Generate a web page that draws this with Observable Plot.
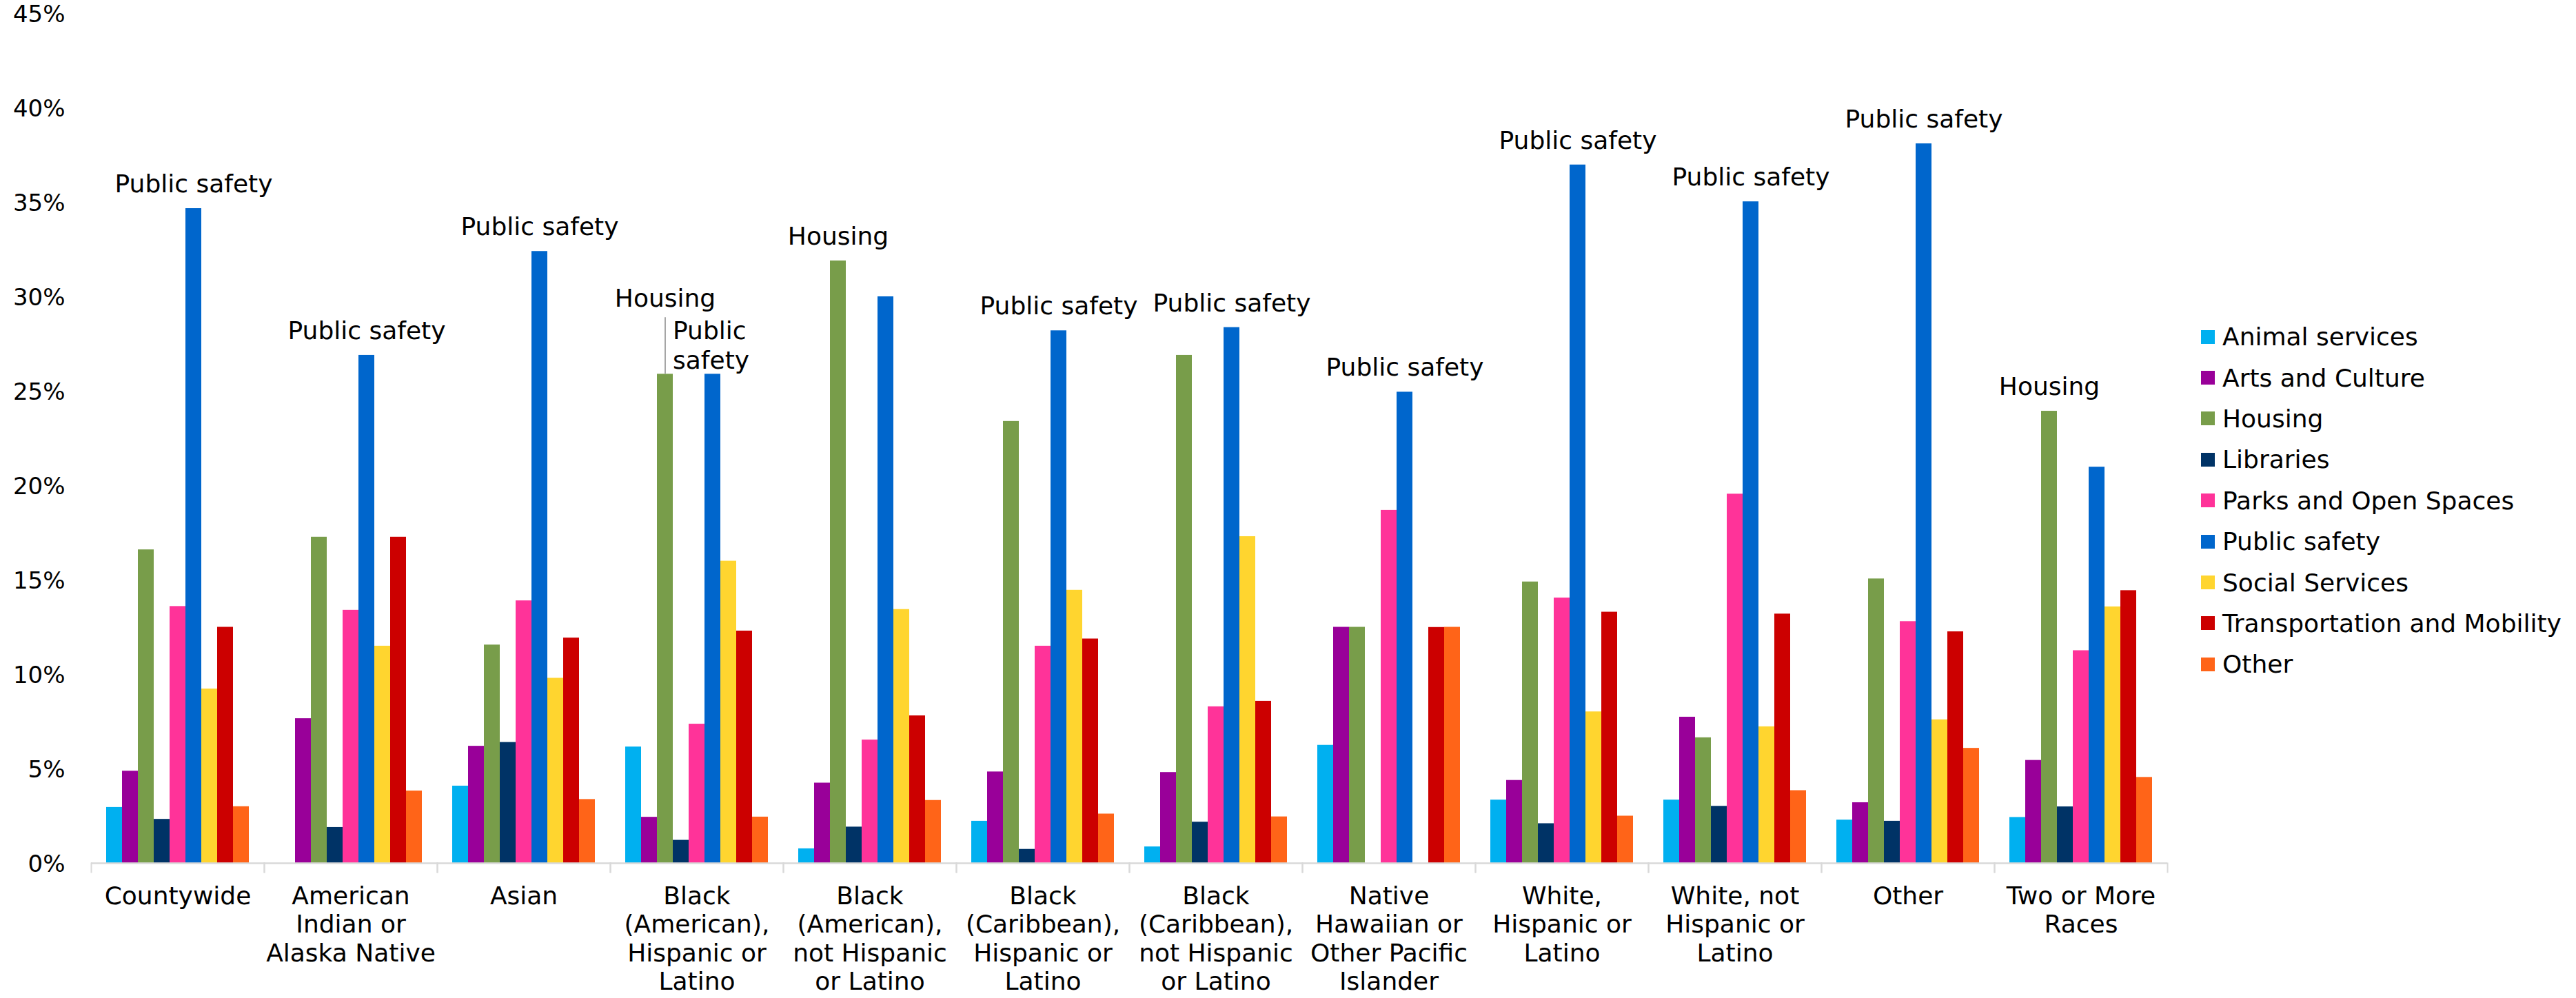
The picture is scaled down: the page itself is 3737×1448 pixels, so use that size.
<!DOCTYPE html>
<html><head><meta charset="utf-8">
<script src="https://cdn.jsdelivr.net/npm/d3@7"></script>
<script src="https://cdn.jsdelivr.net/npm/@observablehq/plot@0.6"></script>
<style>
body{margin:0;background:#fff;}
#wrap{position:relative;width:3737px;height:1448px;font-family:"DejaVu Sans",sans-serif;}
#legend{position:absolute;left:3193px;top:459px;}
.item{display:flex;align-items:center;height:59.4px;font-size:36px;color:#000;white-space:nowrap;}
.sw{width:20px;height:20px;margin-right:11px;flex:none;}
</style></head><body>
<div id="wrap"><div id="chart"></div><div id="legend"></div></div>
<script>
const categories = ["Countywide","American Indian or Alaska Native","Asian","Black (American), Hispanic or Latino","Black (American), not Hispanic or Latino","Black (Caribbean), Hispanic or Latino","Black (Caribbean), not Hispanic or Latino","Native Hawaiian or Other Pacific Islander","White, Hispanic or Latino","White, not Hispanic or Latino","Other","Two or More Races"];
const categoryLabels = ["Countywide","American\nIndian or\nAlaska Native","Asian","Black\n(American),\nHispanic or\nLatino","Black\n(American),\nnot Hispanic\nor Latino","Black\n(Caribbean),\nHispanic or\nLatino","Black\n(Caribbean),\nnot Hispanic\nor Latino","Native\nHawaiian or\nOther Pacific\nIslander","White,\nHispanic or\nLatino","White, not\nHispanic or\nLatino","Other","Two or More\nRaces"];
const series = ["Animal services","Arts and Culture","Housing","Libraries","Parks and Open Spaces","Public safety","Social Services","Transportation and Mobility","Other"];
const colors = ["#00B0F0","#990099","#789D4A","#003366","#FF3399","#0066CC","#FFD52F","#CC0000","#FF6418"];
const yTicks = [0,5,10,15,20,25,30,35,40,45];

const animalServices = [2.96, 0, 4.09, 6.16, 0.77, 2.23, 0.87, 6.25, 3.35, 3.35, 2.29, 2.43];
const artsAndCulture = [4.88, 7.66, 6.2, 2.44, 4.25, 4.84, 4.81, 12.5, 4.39, 7.74, 3.21, 5.45];
const housing = [16.6, 17.27, 11.56, 25.9, 31.9, 23.4, 26.9, 12.5, 14.9, 6.65, 15.06, 23.94];
const libraries = [2.33, 1.9, 6.4, 1.22, 1.92, 0.74, 2.18, 0, 2.1, 3.02, 2.23, 2.99];
const parks = [13.6, 13.4, 13.9, 7.37, 6.53, 11.5, 8.29, 18.69, 14.05, 19.55, 12.8, 11.26];
const publicSafety = [34.67, 26.9, 32.4, 25.9, 30.0, 28.2, 28.37, 24.95, 36.98, 35.03, 38.1, 20.98];
const socialServices = [9.23, 11.5, 9.8, 16.0, 13.44, 14.46, 17.3, 0, 8.02, 7.23, 7.6, 13.58];
const transportation = [12.5, 17.27, 11.93, 12.3, 7.81, 11.88, 8.58, 12.49, 13.3, 13.2, 12.26, 14.44];
const otherValues = [3.0, 3.83, 3.38, 2.45, 3.33, 2.61, 2.46, 12.5, 2.5, 3.85, 6.09, 4.55];

const valueArrays = [animalServices, artsAndCulture, housing, libraries, parks, publicSafety, socialServices, transportation, otherValues];
const rows = categories.flatMap((c, i) => series.map((s, j) => ({cat: c, series: s, value: valueArrays[j][i]})));

const tops = categories.map(c => {
  const g = rows.filter(r => r.cat === c);
  const m = d3.max(g, r => r.value);
  return g.filter(r => Math.abs(r.value - m) < 0.05);
});
const single = tops.filter(t => t.length === 1).map(t => t[0]);
const tieFirst = tops.filter(t => t.length > 1).map(t => t[0]);
const tieSecond = tops.filter(t => t.length > 1).map(t => t[1]);

const font = "DejaVu Sans, sans-serif";
const chart = Plot.plot({
  width: 3737, height: 1448,
  marginLeft: 129, marginRight: 590, marginTop: 19, marginBottom: 196,
  style: {fontFamily: font, fontSize: "36px", color: "#000", background: "#fff"},
  fx: {domain: categories, padding: 0, axis: null},
  x: {domain: series, paddingInner: 0, paddingOuter: 0.74, axis: null},
  y: {domain: [0, 45], label: null, axis: null},
  color: {domain: series, range: colors},
  marks: [
    Plot.axisY({ticks: yTicks, tickFormat: d => d + "%", tickSize: 0, tickPadding: 38, fontSize: 34, dy: 1.5, label: null, fill: "#000"}),
    Plot.barY(rows, {fx: "cat", x: "series", y: "value", fill: "series"}),
    Plot.ruleY([0], {stroke: "#d9d9d9", strokeWidth: 2.5}),
    Plot.frame({anchor: "left", stroke: "#d9d9d9", strokeWidth: 2, insetTop: 1233, insetBottom: -13}),
    Plot.frame({anchor: "right", stroke: "#d9d9d9", strokeWidth: 2, insetTop: 1233, insetBottom: -13}),
    Plot.text(categories, {fx: d => d, text: d => categoryLabels[categories.indexOf(d)], frameAnchor: "bottom", lineAnchor: "top", dy: 30, lineHeight: 1.15, fontSize: 36, fill: "#000"}),
    Plot.text(single, {fx: "cat", x: "series", y: "value", text: "series", lineAnchor: "middle", dy: -35, fontSize: 36, fill: "#000"}),
    Plot.ruleX(tieFirst, {fx: "cat", x: "series", y1: "value", y2: d => d.value + 3.0, stroke: "#a6a6a6", strokeWidth: 2}),
    Plot.text(tieFirst, {fx: "cat", x: "series", y: "value", text: "series", lineAnchor: "middle", dy: -109, fontSize: 36, fill: "#000"}),
    Plot.text(tieSecond, {fx: "cat", x: "series", y: "value", text: d => d.series.replace(" ", "\n"), textAnchor: "start", lineAnchor: "middle", lineHeight: 1.2, dx: -58, dy: -43, fontSize: 36, fill: "#000"})
  ]
});
document.getElementById("chart").appendChild(chart);

const legend = d3.select("#legend");
series.forEach((s, i) => {
  const item = legend.append("div").attr("class", "item");
  item.append("div").attr("class", "sw").style("background", colors[i]);
  item.append("span").text(s);
});
</script>
</body></html>
